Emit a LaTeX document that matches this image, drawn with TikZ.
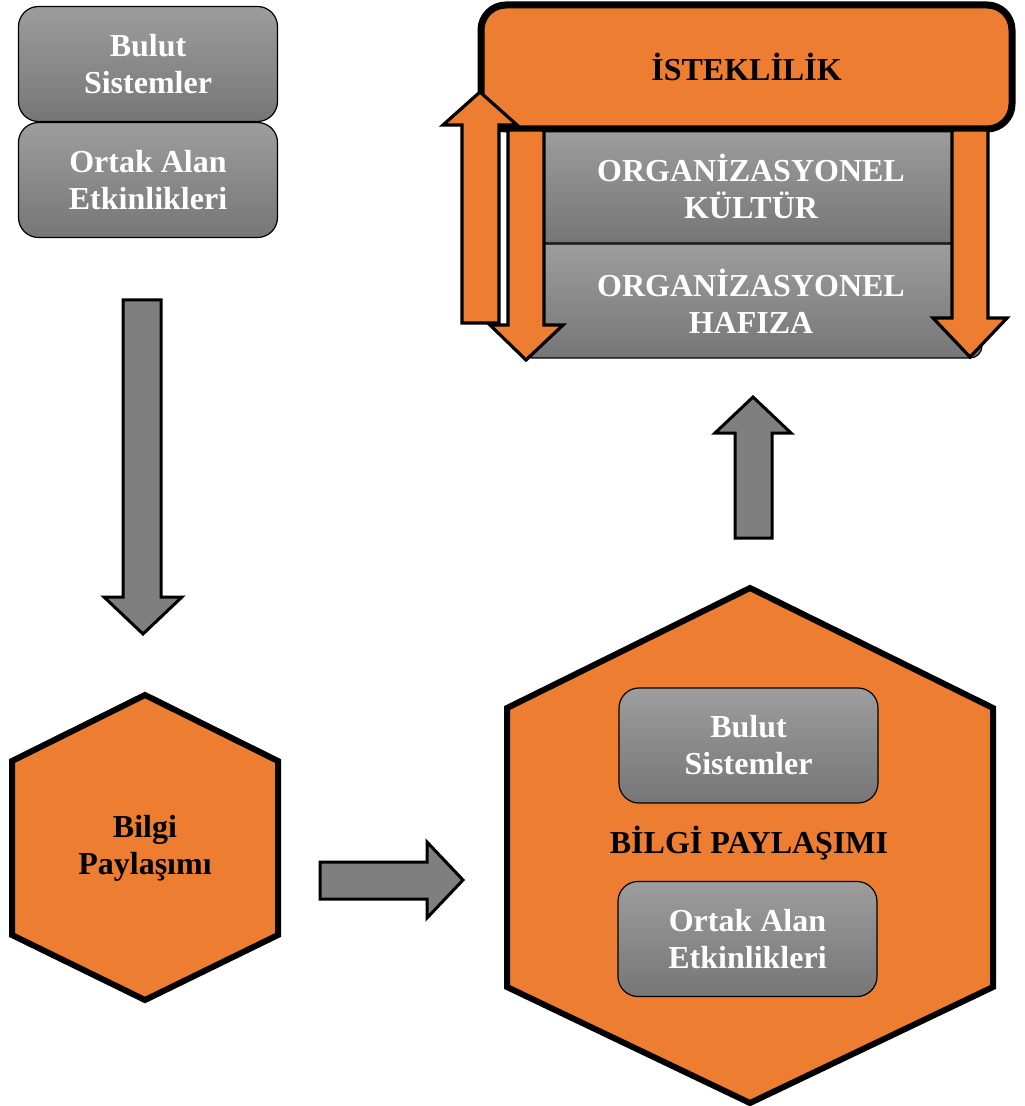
\documentclass[tikz,border=0pt]{standalone}
\usepackage{fontspec}
\setmainfont{Liberation Serif}
\definecolor{orng}{HTML}{ED7D31}
\definecolor{arrowgray}{HTML}{7F7F7F}
\definecolor{boxtop}{HTML}{9D9D9D}
\definecolor{boxbot}{HTML}{767676}
\begin{document}
\begin{tikzpicture}[x=0.5pt,y=-0.5pt,
  txt/.style={font=\bfseries\fontsize{16}{18.5}\selectfont, align=center},
  graybox/.style={txt, draw=black, line width=0.6pt, rounded corners=10pt,
    top color=boxtop, bottom color=boxbot, text=white,
    minimum width=129.5pt, minimum height=57.5pt, inner sep=0pt},
  orgbox/.style={graybox, rounded corners=6pt, minimum width=231pt, minimum height=57pt},
  grayarrow/.style={draw=black, line width=1.5pt, fill=arrowgray, line join=miter},
  orangearrow/.style={draw=black, line width=1.6pt, fill=orng, line join=miter},
  hexagon/.style={draw=black, line width=3pt, fill=orng, line join=miter},
  darklabel/.style={txt, text=black}]
\useasboundingbox (0,0) rectangle (1024,1106);

% stacked boxes, top left
\node[graybox] (cloudA) at (148,64) {Bulut\\Sistemler};
\node[graybox] (commonA) at (148,180) {Ortak Alan\\Etkinlikleri};

% gray block arrows
\draw[grayarrow] (123,300) -- (161,300) -- (161,597) -- (182,597) -- (143,634)
  -- (104,597) -- (123,597) -- cycle;
\draw[grayarrow] (320,862) -- (427,862) -- (427,842) -- (463,880) -- (427,918)
  -- (427,899) -- (320,899) -- cycle;
\draw[grayarrow] (735,538) -- (735,433) -- (715,433) -- (753,397) -- (791,433)
  -- (772,433) -- (772,538) -- cycle;

% small hexagon
\draw[hexagon] (145,695) -- (278,761) -- (278,935) -- (145,1000) -- (12,935)
  -- (12,761) -- cycle;
\node[darklabel] (share) at (145,848) {Bilgi\\Paylaşımı};

% large hexagon with its two inner boxes
\draw[hexagon] (750,588) -- (993,708) -- (993,987) -- (750,1103) -- (507,987)
  -- (507,708) -- cycle;
\node[graybox] (cloudB) at (748.5,745.5) {Bulut\\Sistemler};
\node[darklabel] (shareB) at (749,843) {BİLGİ PAYLAŞIMI};
\node[graybox] (commonB) at (747.5,939) {Ortak Alan\\Etkinlikleri};

% organisational layers
\node[orgbox] (culture) at (751,186) {ORGANİZASYONEL\\KÜLTÜR};
\node[orgbox] (memory) at (751,301) {ORGANİZASYONEL\\HAFIZA};

% top banner
\node[txt, draw=black, line width=3.5pt, fill=orng, rounded corners=12.5pt,
  minimum width=265.5pt, minimum height=62pt, inner sep=0pt] (will) at (746.5,67) {İSTEKLİLİK};

% orange circulation arrows
\draw[orangearrow] (462,323) -- (462,125) -- (443,125) -- (480,92) -- (517,125)
  -- (499,125) -- (499,323) -- cycle;
\draw[orangearrow] (508,130) -- (544,130) -- (544,325) -- (563,325) -- (526,360)
  -- (490,325) -- (508,325) -- cycle;
\draw[orangearrow] (952,130) -- (988,130) -- (988,318) -- (1007,318) -- (970,357)
  -- (933,318) -- (952,318) -- cycle;
\end{tikzpicture}
\end{document}
